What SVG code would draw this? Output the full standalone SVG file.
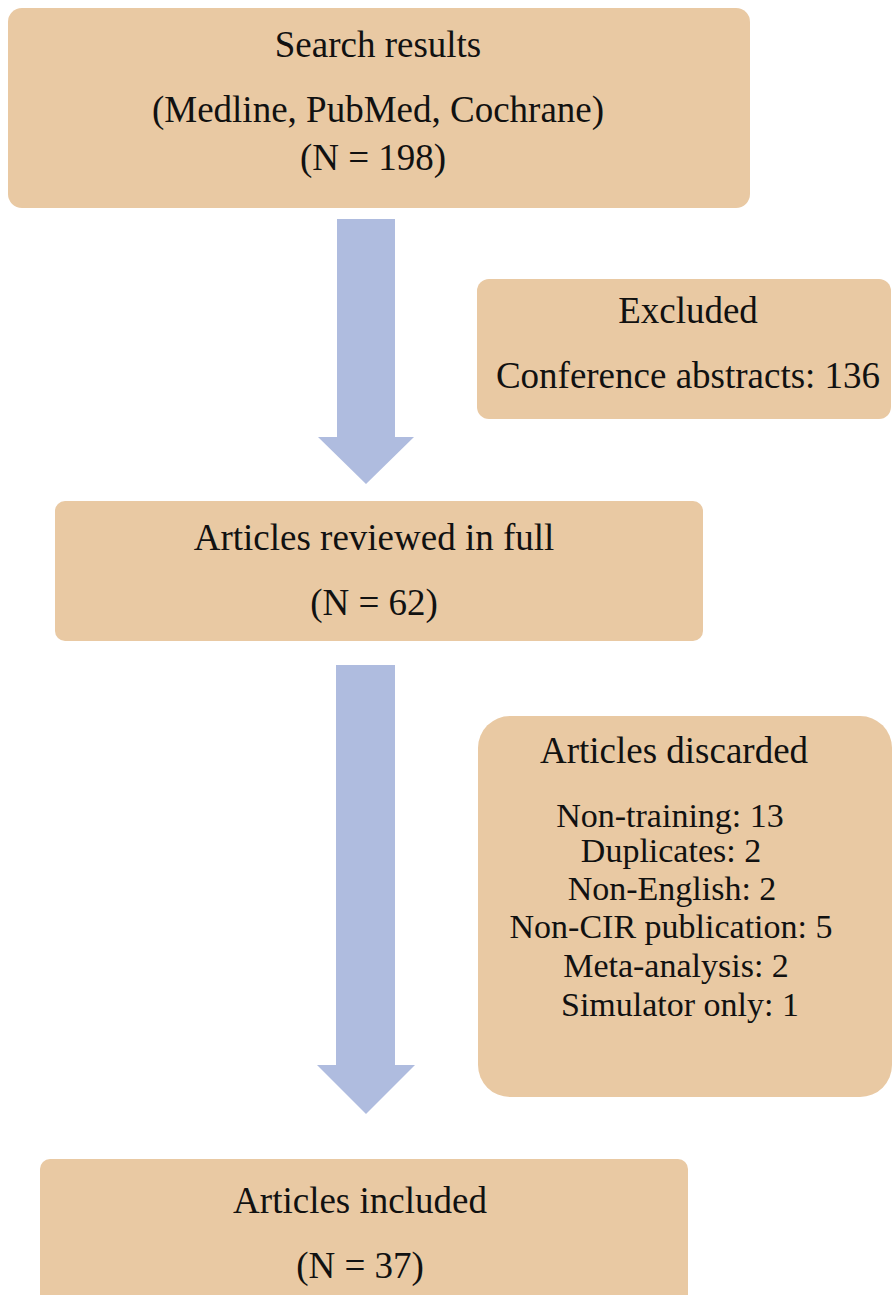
<svg xmlns="http://www.w3.org/2000/svg" width="892" height="1295" viewBox="0 0 892 1295">
<style>
.box{fill:#E9C9A3;}
.arr{fill:#AFBCDF;}
text{font-family:"Liberation Serif","Times New Roman",serif;fill:#111;text-anchor:middle;}
.t{font-size:37px;}
.s{font-size:34px;}
</style>
<rect width="892" height="1295" fill="#ffffff"/>
<g id="connectors">
<polygon class="arr" points="337,219 395,219 395,437 414,437 366,484 318,437 337,437"/>
<polygon class="arr" points="336,665 395,665 395,1065 415,1065 366,1114 317,1065 336,1065"/>
</g>
<g id="search">
<rect class="box" x="8" y="8" width="742" height="200" rx="14"/>
<text class="t" x="378" y="57">Search results</text>
<text class="t" x="378" y="122">(Medline, PubMed, Cochrane)</text>
<text class="t" x="373" y="170">(N = 198)</text>
</g>
<g id="excluded">
<rect class="box" x="477" y="279" width="414" height="140" rx="12"/>
<text class="t" x="688" y="323">Excluded</text>
<text class="t" x="688" y="388">Conference abstracts: 136</text>
</g>
<g id="reviewed">
<rect class="box" x="55" y="501" width="648" height="140" rx="10"/>
<text class="t" x="374" y="550">Articles reviewed in full</text>
<text class="t" x="374" y="615">(N = 62)</text>
</g>
<g id="discarded">
<rect class="box" x="478" y="716" width="414" height="381" rx="32"/>
<text class="t" x="674" y="763">Articles discarded</text>
<text class="s" x="670" y="827">Non-training: 13</text>
<text class="s" x="671" y="862">Duplicates: 2</text>
<text class="s" x="672" y="900">Non-English: 2</text>
<text class="s" x="671" y="938">Non-CIR publication: 5</text>
<text class="s" x="676" y="977">Meta-analysis: 2</text>
<text class="s" x="680" y="1016">Simulator only: 1</text>
</g>
<g id="included">
<rect class="box" x="40" y="1159" width="648" height="150" rx="10"/>
<text class="t" x="360" y="1213">Articles included</text>
<text class="t" x="360" y="1278">(N = 37)</text>
</g>
</svg>
